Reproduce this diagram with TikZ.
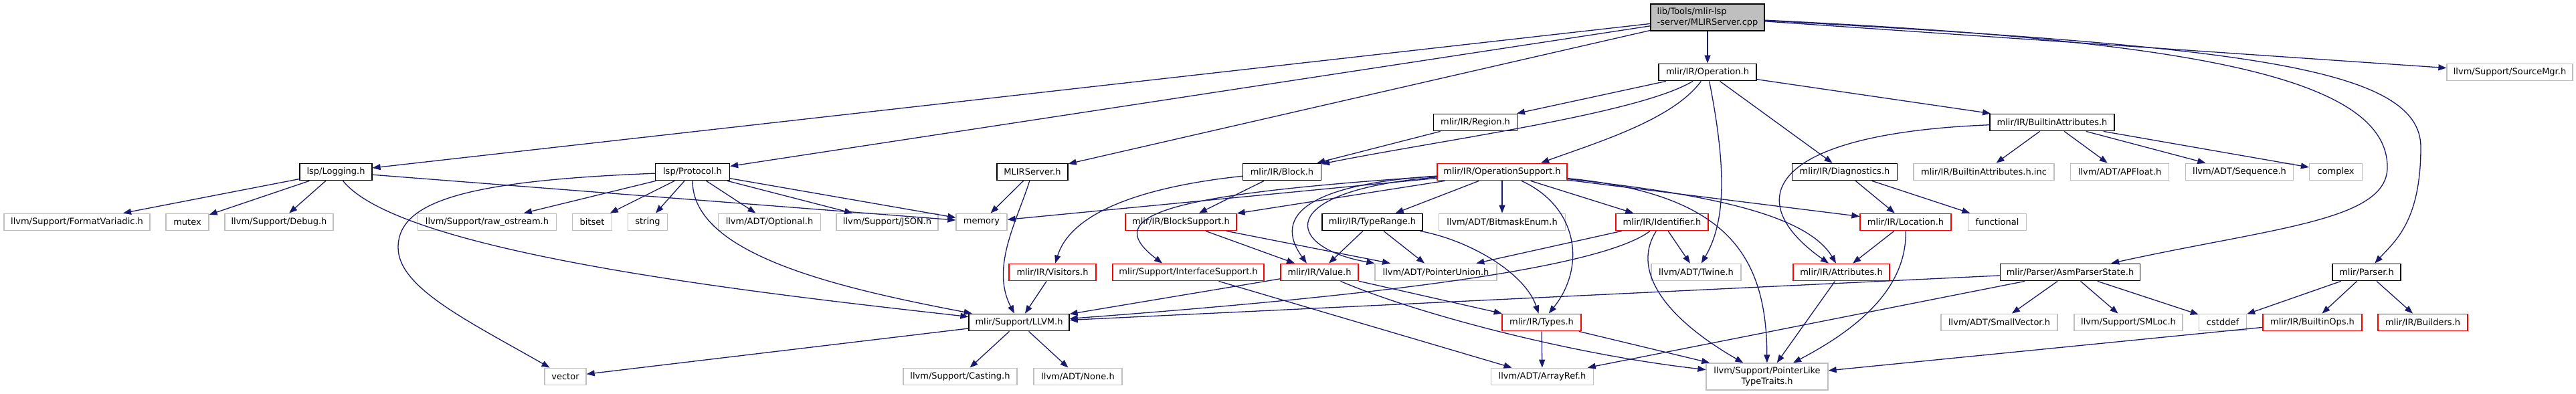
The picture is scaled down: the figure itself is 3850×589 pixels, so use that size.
\documentclass[tikz,border=0pt]{standalone}
\usepackage{fontspec}
\setmainfont{DejaVu Sans}
\usepackage{tikz}
\usetikzlibrary{arrows.meta}
\definecolor{dxgrey}{HTML}{BFBFBF}
\definecolor{dxblue}{HTML}{191970}

\begin{document}
\begin{tikzpicture}[x=1pt,y=-1pt,
  box/.style={draw,line width=1.3pt,fill=white,inner sep=0pt,minimum height=25.5pt,font=\fontsize{13}{15.5}\selectfont},
  doc/.style={box,draw=black},
  ext/.style={box,draw=dxgrey},
  trunc/.style={box,draw=red},
  incl/.style={draw=dxblue,line width=1.3pt,-{Triangle[length=12pt,width=9pt]}}]
\useasboundingbox (0,0) rectangle (3850,589);
\node[doc,fill=dxgrey,minimum width=170pt,minimum height=40pt,align=left] (main) at (2552,26) {lib/Tools/mlir-lsp\\-server/MLIRServer.cpp};
\node[doc,minimum width=146pt] (operation) at (2552,108) {mlir/IR/Operation.h};
\node[ext,minimum width=188pt] (sourcemgr) at (3751,108) {llvm/Support/SourceMgr.h};
\node[doc,minimum width=125pt] (region) at (2205,183) {mlir/IR/Region.h};
\node[doc,minimum width=186pt] (builtinattr) at (3067,183) {mlir/IR/BuiltinAttributes.h};
\node[doc,minimum width=108pt] (logging) at (502,257) {lsp/Logging.h};
\node[doc,minimum width=111pt] (protocol) at (1035,257) {lsp/Protocol.h};
\node[doc,minimum width=106pt] (mlirserverh) at (1543,257) {MLIRServer.h};
\node[doc,minimum width=117pt] (block) at (1916,257) {mlir/IR/Block.h};
\node[trunc,minimum width=194pt] (opsupport) at (2245,257) {mlir/IR/OperationSupport.h};
\node[doc,minimum width=157pt] (diagnostics) at (2757,257) {mlir/IR/Diagnostics.h};
\node[ext,minimum width=210pt] (builtinattrinc) at (2965,257) {mlir/IR/BuiltinAttributes.h.inc};
\node[ext,minimum width=147pt] (apfloat) at (3168,257) {llvm/ADT/APFloat.h};
\node[ext,minimum width=161pt] (sequence) at (3347,257) {llvm/ADT/Sequence.h};
\node[ext,minimum width=79pt] (complex) at (3491,257) {complex};
\node[ext,minimum width=218pt] (formatvariadic) at (115,332) {llvm/Support/FormatVariadic.h};
\node[ext,minimum width=64pt] (mutex) at (280,332) {mutex};
\node[ext,minimum width=162pt] (debug) at (417,332) {llvm/Support/Debug.h};
\node[ext,minimum width=207pt] (rawostream) at (728,332) {llvm/Support/raw\_ostream.h};
\node[ext,minimum width=59pt] (bitset) at (885,332) {bitset};
\node[ext,minimum width=59pt] (string) at (968,332) {string};
\node[ext,minimum width=153pt] (optional) at (1150,332) {llvm/ADT/Optional.h};
\node[ext,minimum width=152pt] (json) at (1326,332) {llvm/Support/JSON.h};
\node[ext,minimum width=76pt] (memory) at (1467,332) {memory};
\node[trunc,minimum width=166pt] (blocksupport) at (1765,332) {mlir/IR/BlockSupport.h};
\node[doc,minimum width=150pt] (typerange) at (2051,332) {mlir/IR/TypeRange.h};
\node[ext,minimum width=189pt] (bitmask) at (2245,332) {llvm/ADT/BitmaskEnum.h};
\node[trunc,minimum width=138pt] (identifier) at (2484,332) {mlir/IR/Identifier.h};
\node[trunc,minimum width=136pt] (location) at (2848,332) {mlir/IR/Location.h};
\node[ext,minimum width=87pt] (functional) at (2985,332) {functional};
\node[trunc,minimum width=130pt] (visitors) at (1573,407) {mlir/IR/Visitors.h};
\node[trunc,minimum width=226pt] (interface) at (1776,407) {mlir/Support/InterfaceSupport.h};
\node[trunc,minimum width=116pt] (value) at (1972,407) {mlir/IR/Value.h};
\node[ext,minimum width=182pt] (pointerunion) at (2146,407) {llvm/ADT/PointerUnion.h};
\node[ext,minimum width=134pt] (twine) at (2535,407) {llvm/ADT/Twine.h};
\node[trunc,minimum width=144pt] (attributes) at (2752,407) {mlir/IR/Attributes.h};
\node[doc,minimum width=209pt] (asmparser) at (3094,407) {mlir/Parser/AsmParserState.h};
\node[doc,minimum width=102pt] (parser) at (3537,407) {mlir/Parser.h};
\node[doc,minimum width=150pt] (llvmh) at (1523,482) {mlir/Support/LLVM.h};
\node[trunc,minimum width=118pt] (types) at (2304,482) {mlir/IR/Types.h};
\node[ext,minimum width=174pt] (smallvector) at (2988,482) {llvm/ADT/SmallVector.h};
\node[ext,minimum width=162pt] (smloc) at (3181,482) {llvm/Support/SMLoc.h};
\node[ext,minimum width=71pt] (cstddef) at (3322,482) {cstddef};
\node[trunc,minimum width=148pt] (builtinops) at (3456,482) {mlir/IR/BuiltinOps.h};
\node[trunc,minimum width=134pt] (builders) at (3621,482) {mlir/IR/Builders.h};
\node[ext,minimum width=62pt] (vector) at (845,563) {vector};
\node[ext,minimum width=170pt] (casting) at (1435,563) {llvm/Support/Casting.h};
\node[ext,minimum width=132pt] (none) at (1611,563) {llvm/ADT/None.h};
\node[ext,minimum width=153pt] (arrayref) at (2305,563) {llvm/ADT/ArrayRef.h};
\node[ext,minimum width=182pt,minimum height=40pt,align=center] (pointerlike) at (2641,563) {llvm/Support/PointerLike\\TypeTraits.h};
\draw[incl] (main) -- (logging);
\draw[incl] (main) -- (protocol);
\draw[incl] (main) -- (mlirserverh);
\draw[incl] (main) -- (operation);
\draw[incl] (main) -- (sourcemgr);
\draw[incl] (main) .. controls (3250,60) and (3568,110) .. (3568,250) .. controls (3568,330) and (3400,340) .. (asmparser);
\draw[incl] (main) .. controls (3350,70) and (3618,100) .. (3618,220) .. controls (3618,330) and (3580,360) .. (parser);
\draw[incl] (operation) -- (region);
\draw[incl] (operation) .. controls (2450,170) and (2150,210) .. (block);
\draw[incl] (operation) .. controls (2500,180) and (2380,215) .. (opsupport.13);
\draw[incl] (operation) .. controls (2580,250) and (2580,330) .. (twine);
\draw[incl] (operation) -- (diagnostics);
\draw[incl] (operation) -- (builtinattr);
\draw[incl] (region) -- (block);
\draw[incl] (builtinattr) .. controls (2640,200) and (2600,300) .. (attributes);
\draw[incl] (builtinattr) -- (builtinattrinc);
\draw[incl] (builtinattr) -- (apfloat);
\draw[incl] (builtinattr) -- (sequence);
\draw[incl] (builtinattr) -- (complex);
\draw[incl] (diagnostics) -- (location);
\draw[incl] (diagnostics) -- (functional);
\draw[incl] (location) -- (attributes);
\draw[incl] (location) .. controls (2850,440) and (2760,500) .. (pointerlike);
\draw[incl] (logging) -- (formatvariadic);
\draw[incl] (logging) -- (mutex);
\draw[incl] (logging) -- (debug);
\draw[incl] (logging) -- (memory);
\draw[incl] (logging) .. controls (600,380) and (1150,440) .. (llvmh);
\draw[incl] (protocol) .. controls (700,270) and (595,300) .. (595,370) .. controls (595,430) and (700,480) .. (vector);
\draw[incl] (protocol) -- (rawostream);
\draw[incl] (protocol) -- (bitset);
\draw[incl] (protocol) -- (string);
\draw[incl] (protocol) .. controls (1035,380) and (1250,430) .. (llvmh);
\draw[incl] (protocol) -- (optional);
\draw[incl] (protocol) -- (json);
\draw[incl] (protocol) -- (memory);
\draw[incl] (mlirserverh) -- (memory);
\draw[incl] (mlirserverh) .. controls (1520,330) and (1480,400) .. (llvmh);
\draw[incl] (block) .. controls (1700,280) and (1600,320) .. (visitors);
\draw[incl] (block) -- (blocksupport);
\draw[incl] (opsupport) -- (memory);
\draw[incl] (opsupport) -- (blocksupport);
\draw[incl] (opsupport) .. controls (1750,290) and (1640,320) .. (interface.161);
\draw[incl] (opsupport) .. controls (1960,275) and (1900,320) .. (value.145);
\draw[incl] (opsupport) .. controls (1900,285) and (1920,370) .. (pointerunion.north west);
\draw[incl] (opsupport) -- (typerange);
\draw[incl] (opsupport) -- (bitmask);
\draw[incl] (opsupport) -- (identifier);
\draw[incl] (opsupport) .. controls (2360,310) and (2370,400) .. (types);
\draw[incl] (opsupport) -- (location);
\draw[incl] (opsupport) .. controls (2550,290) and (2700,320) .. (attributes);
\draw[incl] (opsupport) .. controls (2580,290) and (2640,380) .. (pointerlike);
\draw[incl] (blocksupport) -- (value);
\draw[incl] (blocksupport) -- (pointerunion);
\draw[incl] (typerange) -- (value);
\draw[incl] (typerange) -- (pointerunion);
\draw[incl] (typerange) .. controls (2200,360) and (2280,410) .. (types);
\draw[incl] (identifier) -- (pointerunion);
\draw[incl] (identifier) .. controls (2380,410) and (1950,450) .. (llvmh);
\draw[incl] (identifier) -- (twine);
\draw[incl] (identifier) .. controls (2440,400) and (2480,470) .. (pointerlike);
\draw[incl] (visitors) -- (llvmh);
\draw[incl] (interface) -- (arrayref);
\draw[incl] (value) -- (llvmh);
\draw[incl] (value) -- (types);
\draw[incl] (value) .. controls (2120,470) and (2350,530) .. (pointerlike);
\draw[incl] (attributes) -- (pointerlike);
\draw[incl] (asmparser) -- (llvmh);
\draw[incl] (asmparser) -- (arrayref);
\draw[incl] (asmparser) -- (smallvector);
\draw[incl] (asmparser) -- (smloc);
\draw[incl] (asmparser) -- (cstddef);
\draw[incl] (parser) -- (cstddef);
\draw[incl] (parser) -- (builtinops);
\draw[incl] (parser) -- (builders);
\draw[incl] (llvmh) -- (vector);
\draw[incl] (llvmh) -- (casting);
\draw[incl] (llvmh) -- (none);
\draw[incl] (types) -- (arrayref);
\draw[incl] (types) -- (pointerlike);
\draw[incl] (builtinops) -- (pointerlike);
\end{tikzpicture}
\end{document}
